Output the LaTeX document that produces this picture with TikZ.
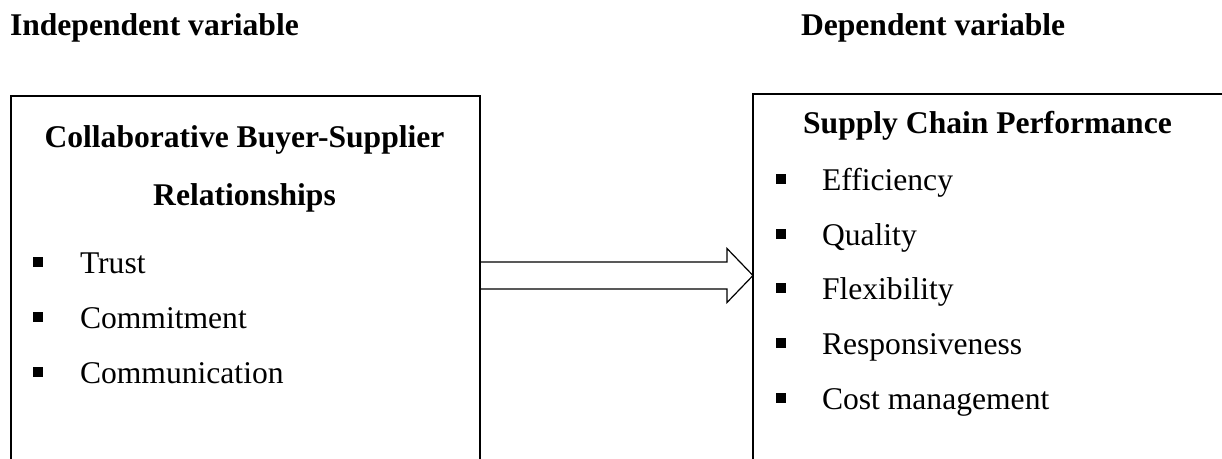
\documentclass[tikz,border=0pt]{standalone}
\usepackage{fontspec}
\setmainfont{Liberation Serif}
\usetikzlibrary{calc}
\begin{document}
\begin{tikzpicture}[x=1pt,y=-1pt,
  every node/.style={inner sep=0pt, outer sep=0pt},
  txt/.style={font=\fontsize{31.6}{37}\selectfont, anchor=base west},
  btxt/.style={font=\fontsize{31.6}{37}\selectfont\bfseries, anchor=base west},
  hdr/.style={font=\fontsize{31.6}{37}\selectfont\bfseries, anchor=base},
  box/.style={draw, line width=1.9pt, rectangle, anchor=north west},
  bul/.style={fill, minimum size=9.5pt, rectangle},
  blockarrow/.style={draw, line width=1.2pt, line join=miter}]
\useasboundingbox (0,0) rectangle (1222,458);
\clip (0,0) rectangle (1222,458);
% boxes (cut off by the picture's edge)
\node[box, minimum width=469pt, minimum height=450pt] (L) at (11,96) {};
\node[box, minimum width=500pt, minimum height=450pt] (R) at (753,94) {};
% titles
\node[btxt] (iv) at (10,35) {Independent variable};
\node[btxt] (dv) at (801,35) {Dependent variable};
% left box content
\node[hdr] (lh1) at (244.5,147) {Collaborative Buyer-Supplier};
\node[hdr] (lh2) at (244.5,205) {Relationships};
\foreach \t/\yy [count=\i] in {Trust/273, Commitment/328, Communication/383}{
  \node[bul] (lb\i) at (38,\yy-11) {};
  \node[txt] (li\i) at (80,\yy) {\t};
}
% right box content
\node[hdr] (rh) at (987.5,133) {Supply Chain Performance};
\foreach \t/\yy [count=\i] in {Efficiency/190, Quality/245, Flexibility/299, Responsiveness/354, Cost management/409}{
  \node[bul] (rb\i) at (781,\yy-11) {};
  \node[txt] (ri\i) at (822,\yy) {\t};
}
% block arrow
\coordinate (ay) at (0,275.5);
\coordinate (as) at (L.east |- ay);
\coordinate (at) at (R.west |- ay);
\draw[blockarrow] ($(as)+(0,-13.5)$) -- ($(at)+(-26,-13.5)$) -- ($(at)+(-26,-27)$)
  -- (at) -- ($(at)+(-26,27)$) -- ($(at)+(-26,13.5)$) -- ($(as)+(0,13.5)$);
\end{tikzpicture}
\end{document}
